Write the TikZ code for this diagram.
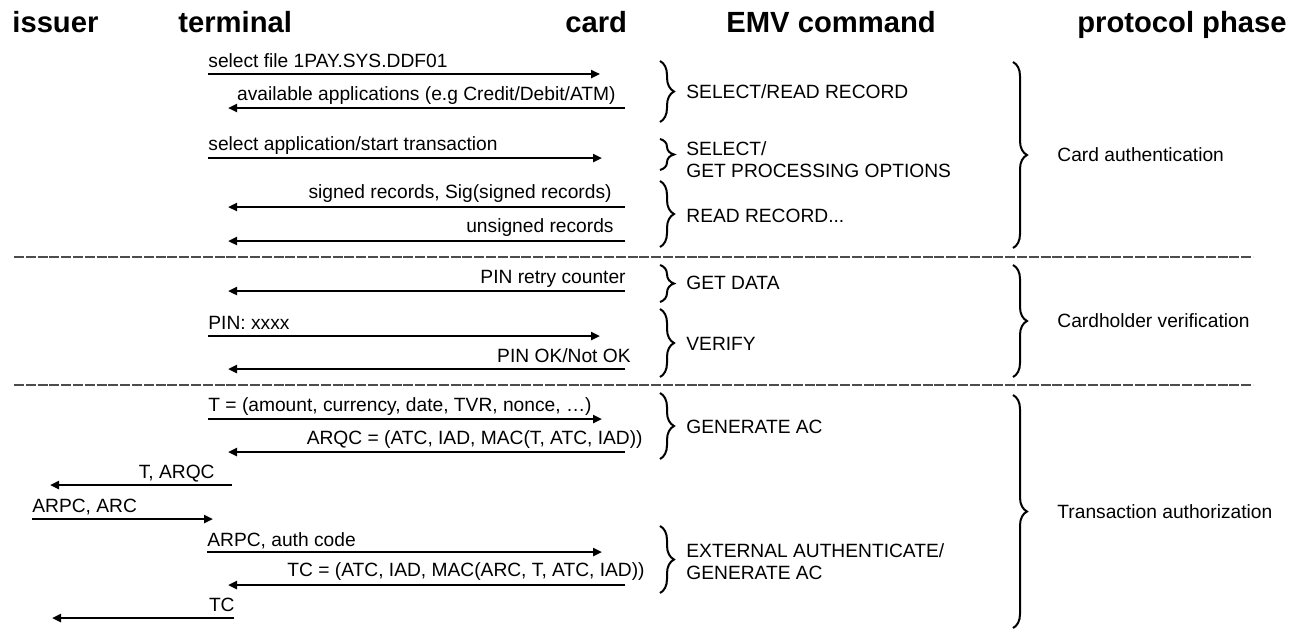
\documentclass[tikz,border=0pt]{standalone}
\usepackage{fontspec}
\setmainfont{Liberation Sans}
\usetikzlibrary{arrows.meta,decorations.pathreplacing}

\begin{document}
\begin{tikzpicture}[x=0.5pt,y=-0.5pt]
\tikzset{msg/.style = {-{Triangle[length=4.5pt,width=4pt]}, line width=1.4pt}}
\tikzset{lbl/.style = {inner sep=0pt, font=\fontsize{9.6}{11}\selectfont}}
\tikzset{lblw/.style = {lbl, anchor=base west}}
\tikzset{lble/.style = {lbl, anchor=base east}}
\tikzset{head/.style = {inner sep=0pt, anchor=base west, font=\fontsize{14.6}{17}\selectfont\bfseries}}
\tikzset{brc/.style = {decorate, decoration={brace, amplitude=7pt}, line width=1pt}}
\tikzset{sep/.style = {line width=0.6pt, dash pattern=on 5pt off 0.9pt, black!70}}
\def \xi {32}
\def \xt {208}
\def \xc {600}
\def \xb {660}
\def \xp {1013}
\useasboundingbox (0,0) rectangle (1293,632);
% headings
\node[head](hi) at (12,32) {issuer};
\node[head](ht) at (178,32) {terminal};
\node[head](hc) at (565,32) {card};
\node[head](he) at (726,32) {EMV command};
\node[head, anchor=base east](hp) at (1287,32) {protocol phase};
% message ends
\coordinate (t1) at (\xt,74);   \coordinate (c1) at (\xc,74);
\coordinate (c2) at (625,108);  \coordinate (t2) at (228,108);
\coordinate (t3) at (\xt,158);  \coordinate (c3) at (602,158);
\coordinate (c4) at (625,207);  \coordinate (t4) at (228,207);
\coordinate (c5) at (625,241);  \coordinate (t5) at (228,241);
\coordinate (c6) at (625,291);  \coordinate (t6) at (228,291);
\coordinate (t7) at (\xt,336);  \coordinate (c7) at (\xc,336);
\coordinate (c8) at (625,369);  \coordinate (t8) at (228,369);
\coordinate (t9) at (\xt,419);  \coordinate (c9) at (602,419);
\coordinate (c10) at (625,452); \coordinate (t10) at (228,452);
\coordinate (t11) at (232,485); \coordinate (i11) at (50,485);
\coordinate (i12) at (\xi,519); \coordinate (t12) at (213,519);
\coordinate (t13) at (207,552); \coordinate (c13) at (602,552);
\coordinate (c14) at (625,585); \coordinate (t14) at (228,585);
\coordinate (t15) at (234,618); \coordinate (i15) at (52,618);
% messages
\draw[msg] (t1) to (c1);
\draw[msg] (c2) to (t2);
\draw[msg] (t3) to (c3);
\draw[msg] (c4) to (t4);
\draw[msg] (c5) to (t5);
\draw[msg] (c6) to (t6);
\draw[msg] (t7) to (c7);
\draw[msg] (c8) to (t8);
\draw[msg] (t9) to (c9);
\draw[msg] (c10) to (t10);
\draw[msg] (t11) to (i11);
\draw[msg] (i12) to (t12);
\draw[msg] (t13) to (c13);
\draw[msg] (c14) to (t14);
\draw[msg] (t15) to (i15);
\node[lblw](m1) at (\xt,67) {select file 1PAY.SYS.DDF01};
\node[lble](m2) at (616,100) {available applications (e.g Credit/Debit/ATM)};
\node[lblw](m3) at (\xt,150) {select application/start transaction};
\node[lble](m4) at (612,198) {signed records, Sig(signed records)};
\node[lble](m5) at (614,232) {unsigned records};
\node[lble](m6) at (626,283) {PIN retry counter};
\node[lblw](m7) at (\xt,329) {PIN: xxxx};
\node[lble](m8) at (631,362) {PIN OK/Not OK};
\node[lblw](m9) at (\xt,411) {T = (amount, currency, date, TVR, nonce, …)};
\node[lble](m10) at (643,444) {ARQC = (ATC, IAD, MAC(T, ATC, IAD))};
\node[lble](m11) at (215,478) {T, ARQC};
\node[lblw](m12) at (\xi,512) {ARPC, ARC};
\node[lblw](m13) at (207,546) {ARPC, auth code};
\node[lble](m14) at (645,576) {TC = (ATC, IAD, MAC(ARC, T, ATC, IAD))};
\node[lble](m15) at (235,611) {TC};
% phase separators
\coordinate (s1a) at (14,257);  \coordinate (s1b) at (1253,257);
\coordinate (s2a) at (14,385);  \coordinate (s2b) at (1253,385);
\draw[sep] (s1a) to (s1b);
\draw[sep] (s2a) to (s2b);
% EMV commands
\coordinate (b1a) at (\xb,61);  \coordinate (b1b) at (\xb,122);
\coordinate (b2a) at (\xb,139); \coordinate (b2b) at (\xb,170);
\coordinate (b3a) at (\xb,181); \coordinate (b3b) at (\xb,247);
\coordinate (b4a) at (\xb,265); \coordinate (b4b) at (\xb,302);
\coordinate (b5a) at (\xb,309); \coordinate (b5b) at (\xb,377);
\coordinate (b6a) at (\xb,393); \coordinate (b6b) at (\xb,459);
\coordinate (b7a) at (\xb,526); \coordinate (b7b) at (\xb,593);
\draw[brc] (b1a) to (b1b);
\draw[brc] (b2a) to (b2b);
\draw[brc] (b3a) to (b3b);
\draw[brc] (b4a) to (b4b);
\draw[brc] (b5a) to (b5b);
\draw[brc] (b6a) to (b6b);
\draw[brc] (b7a) to (b7b);
\node[lblw](e1) at (686,98) {SELECT/READ RECORD};
\node[lblw](e2) at (686,155) {SELECT/};
\node[lblw](e2b) at (686,177) {GET PROCESSING OPTIONS};
\node[lblw](e3) at (686,222) {READ RECORD...};
\node[lblw](e4) at (686,289) {GET DATA};
\node[lblw](e5) at (686,350) {VERIFY};
\node[lblw](e6) at (686,433) {GENERATE AC};
\node[lblw](e7) at (686,557) {EXTERNAL AUTHENTICATE/};
\node[lblw](e7b) at (686,579) {GENERATE AC};
% protocol phases
\coordinate (p1a) at (\xp,62);  \coordinate (p1b) at (\xp,248);
\coordinate (p2a) at (\xp,265); \coordinate (p2b) at (\xp,377);
\coordinate (p3a) at (\xp,395); \coordinate (p3b) at (\xp,628);
\draw[brc] (p1a) to (p1b);
\draw[brc] (p2a) to (p2b);
\draw[brc] (p3a) to (p3b);
\node[lblw](ph1) at (1057,161) {Card authentication};
\node[lblw](ph2) at (1057,327) {Cardholder verification};
\node[lblw](ph3) at (1057,518) {Transaction authorization};
\end{tikzpicture}
\end{document}
